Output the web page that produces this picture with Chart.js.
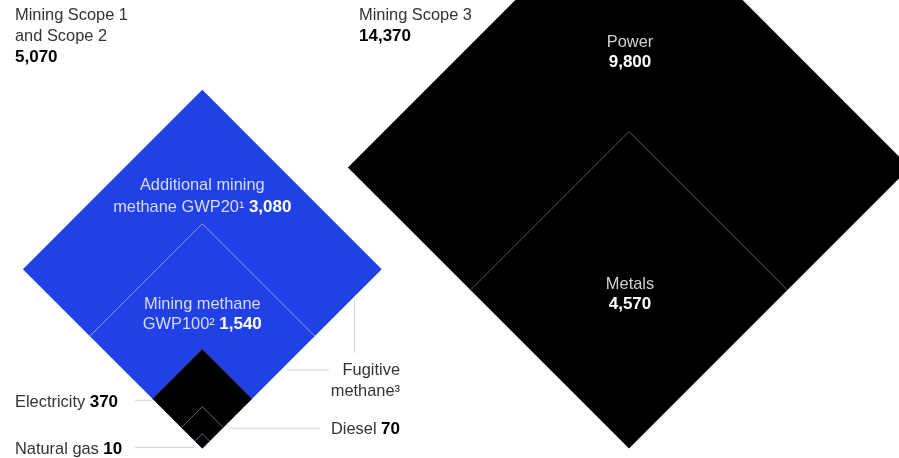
<!DOCTYPE html>
<html>
<head>
<meta charset="utf-8">
<script src="https://cdn.jsdelivr.net/npm/chart.js@4.4.1/dist/chart.umd.min.js"></script>
<style>
    html, body { margin: 0; padding: 0; background: #fff; }
    #wrap { width: 899px; height: 458px; position: relative; }
</style>
</head>
<body>
<div id="wrap"><canvas id="emissionsChart"></canvas></div>
<script>
// Mining Scope 1 and Scope 2, outermost layer first
const scope12Labels = ['Additional mining methane GWP20', 'Mining methane GWP100', 'Electricity', 'Diesel', 'Natural gas'];
const scope12Values = [3080, 1540, 370, 70, 10];
// Mining Scope 3
const scope3Labels = ['Power', 'Metals'];
const scope3Values = [9800, 4570];

const FONT = '"Liberation Sans", Arial, sans-serif';
const BLUE = '#2140e5';
const LEADER = '#d4d4d4';
// pixels per sqrt(unit) -- the methane layer is drawn a bit larger
const methaneScale = 2.52;
const baseScale = 2.345;
const baseY = 448.6;
const leftX = 202.3;
const rightX = 629;

// each layer holds its own value plus everything nested inside it
function nested(values) {
    return values.map((v, i) => values.slice(i).reduce((a, b) => a + b, 0));
}

function half(value, k) {
    return k * Math.sqrt(value);
}

function diamond(cx, value, k) {
    const h = half(value, k);
    return [
        { x: cx, y: baseY },
        { x: cx - h, y: baseY - h },
        { x: cx, y: baseY - 2 * h },
        { x: cx + h, y: baseY - h },
        { x: cx, y: baseY }
    ];
}

function topEdges(cx, value, k) {
    return diamond(cx, value, k).slice(1, 4);
}

function fillSet(points, color) {
    return {
        data: points, showLine: true, fill: 'shape', backgroundColor: color,
        borderColor: 'transparent', borderWidth: 1, pointRadius: 0, tension: 0
    };
}

function lineSet(points, color) {
    return {
        data: points, showLine: true, fill: false, borderColor: color,
        borderWidth: 1, pointRadius: 0, tension: 0
    };
}

const leftTotals = nested(scope12Values);   // 5070, 1990, 450, 80, 10
const rightTotals = nested(scope3Values);   // 14370, 4570
const fmt = v => v.toLocaleString('en-US');

const hElec = half(leftTotals[2], baseScale);
const hDiesel = half(leftTotals[3], baseScale);

const datasets = [
    fillSet(diamond(leftX, leftTotals[0], methaneScale), BLUE),
    lineSet(topEdges(leftX, leftTotals[1], methaneScale), '#8a9af2'),
    fillSet(diamond(leftX, leftTotals[2], baseScale), '#000'),
    lineSet(topEdges(leftX, leftTotals[2], baseScale), '#3c3c50'),
    lineSet(topEdges(leftX, leftTotals[3], baseScale), '#6a6a6a'),
    lineSet(topEdges(leftX, leftTotals[4], baseScale), '#6a6a6a'),
    fillSet(diamond(rightX, rightTotals[0], baseScale), '#000'),
    lineSet(topEdges(rightX, rightTotals[1], baseScale), '#5e5e5e'),
    // leader lines
    lineSet([{ x: 135, y: baseY - hElec + 1.5 }, { x: leftX - hElec - 1, y: baseY - hElec + 1.5 }], LEADER),
    lineSet([{ x: 135, y: baseY - 1 }, { x: leftX - 8, y: baseY - 1 }], LEADER),
    lineSet([{ x: leftX + hDiesel + 5, y: baseY - hDiesel + 0.5 }, { x: 320, y: baseY - hDiesel + 0.5 }], LEADER),
    lineSet([{ x: leftX + (baseY - 370) + 6, y: 370 }, { x: 329, y: 370 }], LEADER),
    lineSet([{ x: 354.5, y: 300.5 }, { x: 354.5, y: 352.5 }], LEADER)
];
datasets.forEach((d, i) => { d.order = datasets.length - i; });

const GREY = '#333';
const DARK = '#000';
const SOFT_BLUE = '#d6dcff';
const SOFT_GREY = '#d2d2d2';

// [x, baseline, align, [[text, bold, color], ...]]
const labels = [
    [15, 19.5, 'left', [['Mining Scope 1', false, GREY]]],
    [15, 40.5, 'left', [['and Scope 2', false, GREY]]],
    [15, 61.5, 'left', [[fmt(leftTotals[0]), true, DARK]]],
    [359, 19.5, 'left', [['Mining Scope 3', false, GREY]]],
    [359, 40.5, 'left', [[fmt(rightTotals[0]), true, DARK]]],
    [rightX + 1, 46.5, 'center', [[scope3Labels[0], false, SOFT_GREY]]],
    [rightX + 1, 67, 'center', [[fmt(scope3Values[0]), true, '#fff']]],
    [rightX + 1, 288.5, 'center', [[scope3Labels[1], false, SOFT_GREY]]],
    [rightX + 1, 309, 'center', [[fmt(scope3Values[1]), true, '#fff']]],
    [leftX, 190, 'center', [['Additional mining', false, SOFT_BLUE]]],
    [leftX, 211.5, 'center', [['methane GWP20\u00B9 ', false, SOFT_BLUE], [fmt(scope12Values[0]), true, '#fff']]],
    [leftX, 308.5, 'center', [['Mining methane', false, SOFT_BLUE]]],
    [leftX, 328.5, 'center', [['GWP100\u00B2 ', false, SOFT_BLUE], [fmt(scope12Values[1]), true, '#fff']]],
    [15, 407, 'left', [[scope12Labels[2] + ' ', false, GREY], [fmt(scope12Values[2]), true, DARK]]],
    [15, 453.5, 'left', [[scope12Labels[4] + ' ', false, GREY], [fmt(scope12Values[4]), true, DARK]]],
    [400, 375, 'right', [['Fugitive', false, GREY]]],
    [400, 396, 'right', [['methane\u00B3', false, GREY]]],
    [400, 433.5, 'right', [[scope12Labels[3] + ' ', false, GREY], [fmt(scope12Values[3]), true, DARK]]]
];

function fontFor(bold) {
    return bold ? 'bold 17px ' + FONT : '16.4px ' + FONT;
}

const textPlugin = {
    id: 'diamondText',
    afterDatasetsDraw(chart) {
        const ctx = chart.ctx;
        const xs = chart.scales.x, ys = chart.scales.y;
        ctx.save();
        ctx.textBaseline = 'alphabetic';
        ctx.textAlign = 'left';
        labels.forEach(([x, y, align, parts]) => {
            const widths = parts.map(p => {
                ctx.font = fontFor(p[1]);
                return ctx.measureText(p[0]).width;
            });
            const total = widths.reduce((a, b) => a + b, 0);
            let px = xs.getPixelForValue(x);
            if (align === 'center') px -= total / 2;
            if (align === 'right') px -= total;
            const py = ys.getPixelForValue(y);
            parts.forEach((p, i) => {
                ctx.font = fontFor(p[1]);
                ctx.fillStyle = p[2];
                ctx.fillText(p[0], px, py);
                px += widths[i];
            });
        });
        ctx.restore();
    }
};

new Chart(document.getElementById('emissionsChart').getContext('2d'), {
    type: 'scatter',
    data: { datasets: datasets },
    options: {
        responsive: true,
        maintainAspectRatio: false,
        animation: false,
        events: [],
        layout: { padding: 0 },
        scales: {
            x: { type: 'linear', min: 0, max: 899, display: false },
            y: { type: 'linear', min: 0, max: 458, reverse: true, display: false }
        },
        plugins: {
            legend: { display: false },
            tooltip: { enabled: false }
        }
    },
    plugins: [textPlugin]
});
</script>
</body>
</html>
